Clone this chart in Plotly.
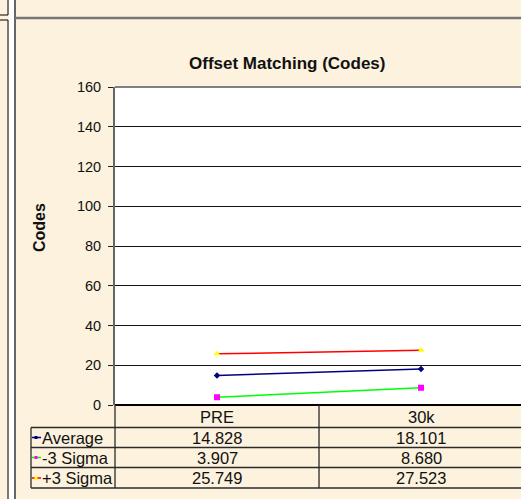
import plotly.graph_objects as go

W, H = 521, 499

categories = ["PRE", "30k"]
series_names = ["Average", "-3 Sigma", "+3 Sigma"]
average = [14.828, 18.101]
minus3 = [3.907, 8.680]
plus3 = [25.749, 27.523]
y_ticks = [0, 20, 40, 60, 80, 100, 120, 140, 160]

def px(x):
    return x / W

def py(y):
    return 1 - y / H

CREAM = "#FCF2DD"
FONT = "Liberation Sans, Arial, sans-serif"
TXT = "#111111"

styles = [
    dict(line=dict(color="#000080", width=1.5), marker=dict(symbol="diamond", size=5, color="#000080")),
    dict(line=dict(color="#00FF00", width=1.5), marker=dict(symbol="square", size=6, color="#FF00FF")),
    dict(line=dict(color="#FF0000", width=1.5), marker=dict(symbol="triangle-up", size=6, color="#FFFF00")),
]
values = [average, minus3, plus3]
xs = list(range(len(categories)))

fig = go.Figure()
for name, vals, st in zip(series_names, values, styles):
    fig.add_trace(go.Scatter(x=xs, y=vals, mode="lines+markers", name=name,
                             line=st["line"], marker=st["marker"], showlegend=False,
                             cliponaxis=False))

shapes = []
annotations = []

# window frame bits
shapes.append(dict(type="rect", xref="paper", yref="paper", x0=px(-2), x1=px(8), y0=py(15), y1=py(-2),
                   line=dict(color="black", width=1), fillcolor=CREAM, layer="below"))
shapes.append(dict(type="rect", xref="paper", yref="paper", x0=px(-2), x1=px(8), y0=py(501), y1=py(20),
                   line=dict(color="black", width=1), fillcolor=CREAM, layer="below"))
shapes.append(dict(type="rect", xref="paper", yref="paper", x0=px(9), x1=px(14), y0=0, y1=1,
                   line=dict(width=0), fillcolor="white", layer="below"))
shapes.append(dict(type="line", xref="paper", yref="paper", x0=px(15), x1=px(15), y0=0, y1=1,
                   line=dict(color="#666666", width=2)))
shapes.append(dict(type="line", xref="paper", yref="paper", x0=px(15), x1=1, y0=py(18), y1=py(18),
                   line=dict(color="#777777", width=2.5)))

# table lines
TL = dict(color="#2a2a2a", width=1.3)
row_lines = [427.5, 447.5, 467.5, 488]
for yl in row_lines:
    shapes.append(dict(type="line", xref="paper", yref="paper", x0=px(31), x1=1, y0=py(yl), y1=py(yl), line=TL))
shapes.append(dict(type="line", xref="paper", yref="paper", x0=px(31), x1=px(31), y0=py(427.5), y1=py(488), line=TL))
shapes.append(dict(type="line", xref="paper", yref="paper", x0=px(115), x1=px(115), y0=py(405), y1=py(488), line=TL))
shapes.append(dict(type="line", xref="x", yref="paper", x0=0.5, x1=0.5, y0=py(405), y1=py(488), line=TL))

# plot border top
shapes.append(dict(type="line", xref="paper", yref="paper", x0=px(115), x1=1, y0=py(87), y1=py(87),
                   line=dict(color="#808080", width=2)))

# table text
row_centers = [437.5, 457.5, 478]
for i, c in enumerate(categories):
    annotations.append(dict(x=i, y=py(416.5), xref="x", yref="paper", text=c, showarrow=False,
                            xanchor="center", yanchor="middle",
                            font=dict(size=16.5, color=TXT, family=FONT)))
key_colors = [("#000080", "#000080"), ("#00FF00", "#FF00FF"), ("#FF0000", "#FFFF00")]
for r, (name, vals) in enumerate(zip(series_names, values)):
    yc = row_centers[r]
    annotations.append(dict(x=px(40), y=py(yc), xref="paper", yref="paper", text=name, showarrow=False,
                            xanchor="left", yanchor="middle", font=dict(size=16.5, color=TXT, family=FONT)))
    for i, v in enumerate(vals):
        annotations.append(dict(x=i, y=py(yc), xref="x", yref="paper", text=f"{v:.3f}", showarrow=False,
                                xanchor="center", yanchor="middle",
                                font=dict(size=16.5, color=TXT, family=FONT)))
    lc, mc = key_colors[r]
    shapes.append(dict(type="line", xref="paper", yref="paper", x0=px(32), x1=px(41), y0=py(yc), y1=py(yc),
                       line=dict(color=lc, width=1.5)))
    shapes.append(dict(type="rect", xref="paper", yref="paper", x0=px(34.5), x1=px(37.5), y0=py(yc + 1.5), y1=py(yc - 1.5),
                       line=dict(width=0), fillcolor=mc))

annotations.append(dict(x=px(287), y=py(63), xref="paper", yref="paper", text="<b>Offset Matching (Codes)</b>",
                        showarrow=False, xanchor="center", yanchor="middle",
                        font=dict(size=17, color=TXT, family=FONT)))
annotations.append(dict(x=px(39), y=py(228), xref="paper", yref="paper", text="<b>Codes</b>", textangle=-90,
                        showarrow=False, xanchor="center", yanchor="middle",
                        font=dict(size=16, color=TXT, family=FONT)))

fig.update_layout(
    width=W, height=H,
    margin=dict(l=0, r=0, t=0, b=0, pad=0, autoexpand=False),
    paper_bgcolor=CREAM,
    plot_bgcolor="white",
    showlegend=False,
    shapes=shapes,
    annotations=annotations,
    xaxis=dict(domain=[px(115), 1], range=[-0.5, 1.49], showticklabels=False, showgrid=False,
               zeroline=False, showline=False, ticks="", fixedrange=True, automargin=False),
    yaxis=dict(domain=[py(405), py(87)], range=[0, 160], tickvals=y_ticks, ticks="outside", ticklen=5,
               tickcolor="#222222", showgrid=True, gridcolor="#111111", gridwidth=1,
               zeroline=True, zerolinecolor="#000000", zerolinewidth=1.5,
               showline=True, linecolor="#666666", linewidth=2, automargin=False,
               ticklabelstandoff=4,
               tickfont=dict(size=14.5, color=TXT, family=FONT), fixedrange=True),
)

fig.write_html("out.html", config={"displayModeBar": False},
               post_script="document.body.style.margin='0';document.body.style.overflow='hidden';")
